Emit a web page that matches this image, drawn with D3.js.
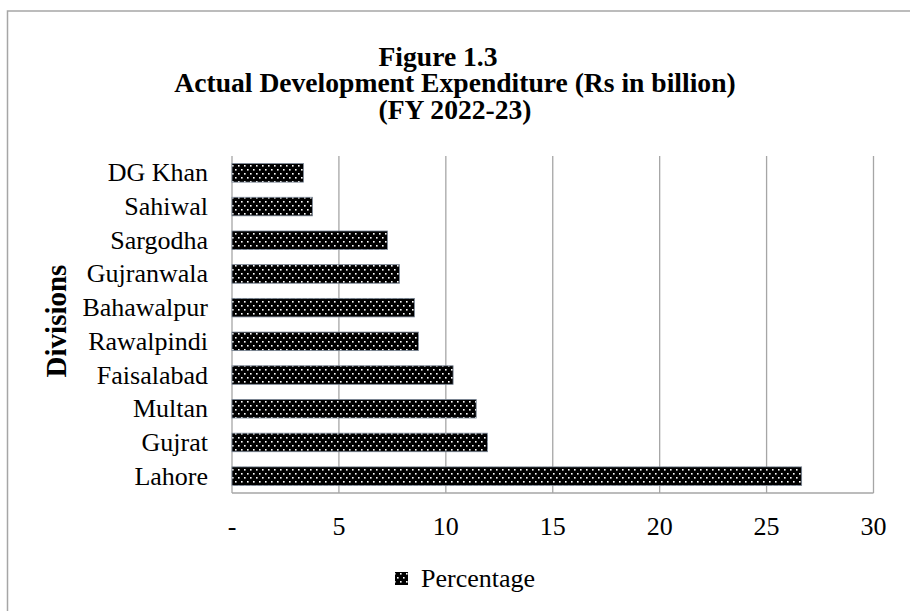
<!DOCTYPE html>
<html>
<head>
<meta charset="utf-8">
<script src="https://cdn.jsdelivr.net/npm/d3@7/dist/d3.min.js"></script>
<style>
  html, body { margin: 0; padding: 0; background: #fff; }
  svg { display: block; }
  text { font-family: "Liberation Serif", "Times New Roman", serif; fill: #000; }
</style>
</head>
<body>
<svg id="chart" width="910" height="611"></svg>
<script>
// Data
const divisions = ["DG Khan", "Sahiwal", "Sargodha", "Gujranwala", "Bahawalpur",
                   "Rawalpindi", "Faisalabad", "Multan", "Gujrat", "Lahore"];
const values = [3.34, 3.76, 7.27, 7.83, 8.53, 8.72, 10.34, 11.42, 11.95, 26.64];
const xTicks = [0, 5, 10, 15, 20, 25, 30];
const titleLines = ["Figure 1.3", "Actual Development Expenditure (Rs in billion)", "(FY 2022-23)"];
const seriesName = "Percentage";
const axisTitle = "Divisions";

const svg = d3.select("#chart");

// pattern: black with white dots
const defs = svg.append("defs");
const pat = defs.append("pattern")
  .attr("id", "dots").attr("patternUnits", "userSpaceOnUse")
  .attr("width", 6).attr("height", 8);
pat.append("rect").attr("width", 6).attr("height", 8).attr("fill", "#000");
pat.append("rect").attr("x", 1).attr("y", 1).attr("width", 1.6).attr("height", 1.6).attr("fill", "#fff");
pat.append("rect").attr("x", 4).attr("y", 5).attr("width", 1.6).attr("height", 1.6).attr("fill", "#fff");

// outer frame
svg.append("path")
  .attr("d", "M7.5,620 L7.5,11 L920,11")
  .attr("fill", "none").attr("stroke", "#a6a6a6").attr("stroke-width", 1.5);

// title
const titleX = [438, 455, 455];
svg.append("g").selectAll("text").data(titleLines).join("text")
  .attr("x", (d, i) => titleX[i]).attr("y", (d, i) => 66 + i * 26.3)
  .attr("text-anchor", "middle")
  .attr("font-weight", "bold").attr("font-size", 27.6)
  .text(d => d);

const x = d3.scaleLinear().domain([0, 30]).range([232, 873.5]);
const y = d3.scaleBand().domain(divisions).range([156, 493])
  .paddingInner(0.45).paddingOuter(0.225);

// gridlines
svg.append("g").selectAll("line").data(xTicks).join("line")
  .attr("x1", d => x(d)).attr("x2", d => x(d))
  .attr("y1", 156).attr("y2", 493)
  .attr("stroke", "#a6a6a6").attr("stroke-width", 1.3);

// bottom axis line
svg.append("line")
  .attr("x1", x(0)).attr("x2", x(30)).attr("y1", 493).attr("y2", 493)
  .attr("stroke", "#a6a6a6").attr("stroke-width", 1.3);

// bars
svg.append("g").selectAll("rect").data(values).join("rect")
  .attr("x", x(0))
  .attr("y", (d, i) => y(divisions[i]))
  .attr("width", d => x(d) - x(0))
  .attr("height", y.bandwidth())
  .attr("fill", "url(#dots)")
  .attr("stroke", "#7a8696").attr("stroke-width", 0.8);

// x tick labels
svg.append("g").selectAll("text").data(xTicks).join("text")
  .attr("x", d => x(d)).attr("y", 535)
  .attr("text-anchor", "middle").attr("font-size", 26)
  .text(d => d === 0 ? "-" : d);

// category labels
svg.append("g").selectAll("text").data(divisions).join("text")
  .attr("x", 208).attr("y", d => y(d) + y.bandwidth() / 2 + 8.5)
  .attr("text-anchor", "end").attr("font-size", 26)
  .text(d => d);

// axis title
svg.append("text")
  .attr("transform", "translate(66,321) rotate(-90)")
  .attr("text-anchor", "middle").attr("font-weight", "bold").attr("font-size", 29)
  .text(axisTitle);

// legend
svg.append("rect").attr("x", 395).attr("y", 572).attr("width", 13).attr("height", 13)
  .attr("fill", "url(#dots)");
svg.append("text").attr("x", 421).attr("y", 587).attr("font-size", 26).text(seriesName);
</script>
</body>
</html>
